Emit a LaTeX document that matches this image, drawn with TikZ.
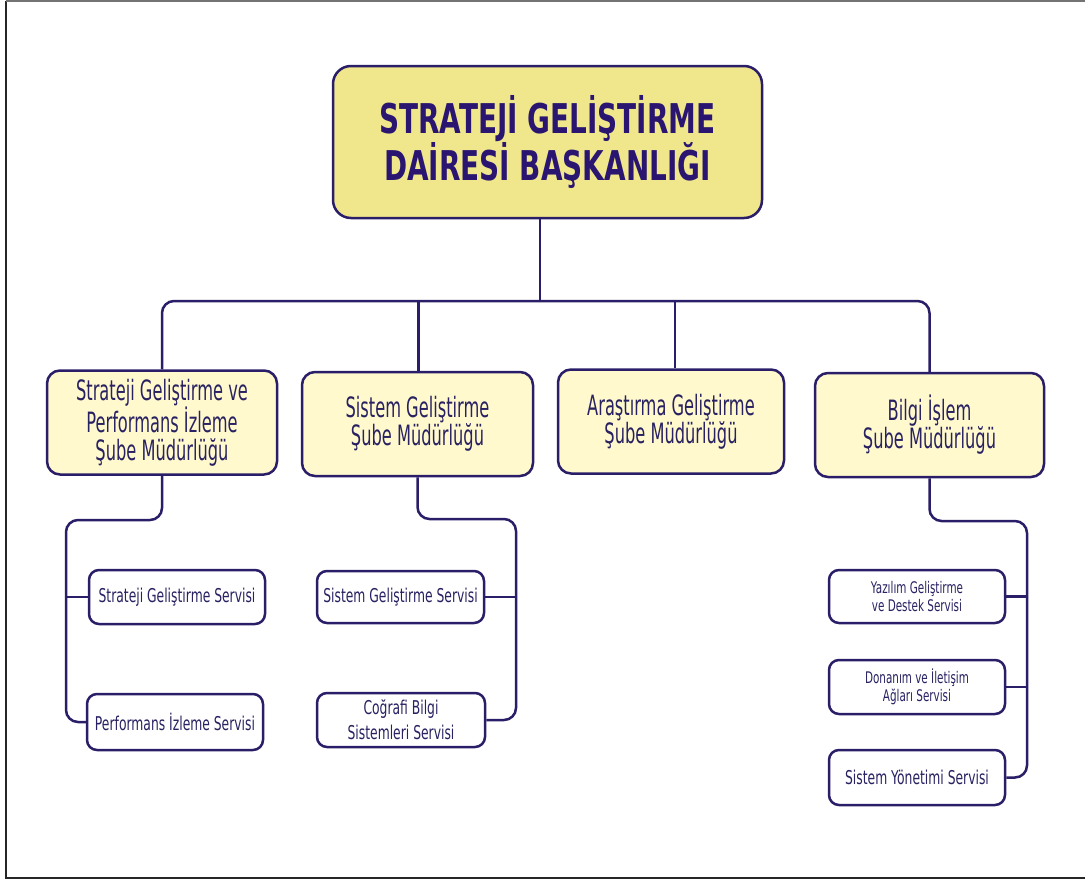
\documentclass[tikz,border=0pt]{standalone}
\usepackage{fontspec}
\newfontfamily\titlef{DejaVu Sans}[FakeStretch=0.68]
\newfontfamily\subf{DejaVu Sans}[FakeStretch=0.58]
\newfontfamily\servf{DejaVu Sans}[FakeStretch=0.65]
\definecolor{linecol}{RGB}{42,30,104}
\definecolor{titlecol}{RGB}{42,22,112}
\definecolor{textcol}{RGB}{40,34,98}
\definecolor{khakifill}{RGB}{240,230,140}
\definecolor{lightfill}{RGB}{255,249,205}
\tikzset{
  topbox/.style={draw=linecol, line width=2.5pt, fill=khakifill, rounded corners=18pt,
    minimum width=429pt, minimum height=152pt, align=center, text=titlecol,
    font=\titlef\bfseries\fontsize{41}{44}\selectfont, inner sep=0pt},
  subbox/.style={draw=linecol, line width=2.5pt, fill=lightfill, rounded corners=13pt,
    minimum height=104pt, align=center, text=textcol, inner sep=0pt,
    font=\subf\fontsize{28}{28}\selectfont},
  servbox/.style={draw=linecol, line width=2.5pt, fill=white, rounded corners=10pt,
    align=center, text=textcol, inner sep=0pt,
    font=\servf\fontsize{19}{25}\selectfont},
  smallserv/.style={servbox, font=\servf\fontsize{16}{18.5}\selectfont},
  conn/.style={draw=linecol, line width=2.5pt, rounded corners=12pt},
  frameline/.style={line width=2pt, draw=black!85}
}
\begin{document}
\begin{tikzpicture}[x=1pt,y=-1pt]
\useasboundingbox (0,0) rectangle (1085,881);
% frame
\draw[frameline] (6,1) -- (6,878) -- (1085,878);
\draw[line width=1.5pt, draw=black!55] (6,1) -- (1085,1);

% nodes
\node[topbox] (top) at (547.5,142) {STRATEJİ GELİŞTİRME\\[0pt]DAİRESİ BAŞKANLIĞI};

\node[subbox, minimum width=230pt] (b1) at (162,422.5) {Strateji Geliştirme ve\\Performans İzleme\\Şube Müdürlüğü};
\node[subbox, minimum width=231pt] (b2) at (417.5,424) {Sistem Geliştirme\\Şube Müdürlüğü};
\node[subbox, minimum width=226pt] (b3) at (671,421.5) {Araştırma Geliştirme\\Şube Müdürlüğü};
\node[subbox, minimum width=229pt] (b4) at (929.5,425) {Bilgi İşlem\\Şube Müdürlüğü};

\node[servbox, minimum width=176pt, minimum height=54pt] (s1) at (177,597) {Strateji Geliştirme Servisi};
\node[servbox, minimum width=176pt, minimum height=56pt] (s2) at (175,722) {Performans İzleme Servisi};
\node[servbox, minimum width=167pt, minimum height=52pt] (s3) at (400.5,597) {Sistem Geliştirme Servisi};
\node[servbox, minimum width=168pt, minimum height=54pt] (s4) at (401,720) {Coğrafi Bilgi\\Sistemleri Servisi};
\node[smallserv, minimum width=176pt, minimum height=53pt] (s5) at (917,596.5) {Yazılım Geliştirme\\ve Destek Servisi};
\node[smallserv, minimum width=176pt, minimum height=54pt] (s6) at (917,687) {Donanım ve İletişim\\Ağları Servisi};
\node[servbox, minimum width=176pt, minimum height=55pt] (s7) at (917,777.5) {Sistem Yönetimi Servisi};

% coordinates
\coordinate (bus) at (540,301);
\coordinate (c1) at (66,520);
\coordinate (c2) at (516,519);
\coordinate (c4) at (1027,521);

% connectors from top
\draw[conn] (top.south -| bus) -- (bus);
\draw[conn] (b1.north) |- (bus) -| (b4.north);
\draw[conn] ([xshift=1pt]b2.north) -- ([xshift=1pt]b2.north |- bus);
\draw[conn] ([xshift=4pt]b3.north) -- ([xshift=4pt]b3.north |- bus);

% branch 1
\draw[conn] (b1.south) |- (c1) |- (s2.west);
\draw[conn] (s1.west) -- (s1.west -| c1);
% branch 2
\draw[conn] (b2.south) |- (c2) |- (s4.east);
\draw[conn] (s3.east) -- (s3.east -| c2);
% branch 4
\draw[conn] (b4.south) |- (c4) |- (s7.east);
\draw[conn] (s5.east) -- (s5.east -| c4);
\draw[conn] (s6.east) -- (s6.east -| c4);
\end{tikzpicture}
\end{document}
